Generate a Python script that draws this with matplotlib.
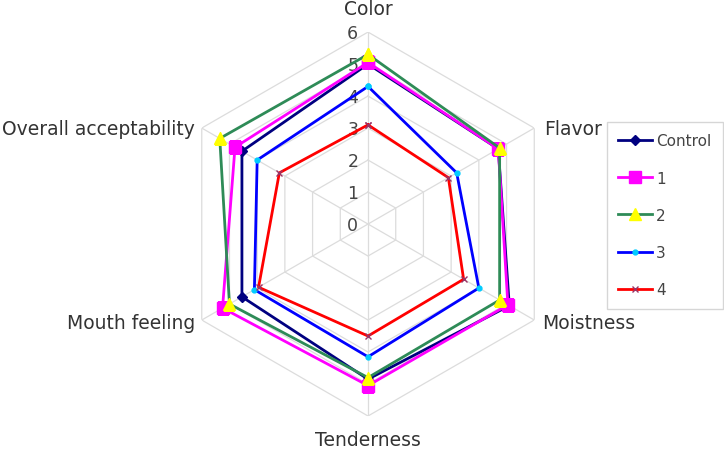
import matplotlib.pyplot as plt
import numpy as np

# Sensory attributes (clockwise from top)
attributes = ["Color", "Flavor", "Moistness", "Tenderness", "Mouth feeling", "Overall acceptability"]

# Scores
control = [5.0, 4.7, 5.1, 4.85, 4.55, 4.55]
sample1 = [5.05, 4.7, 5.05, 5.05, 5.25, 4.8]
sample2 = [5.3, 4.75, 4.75, 4.8, 5.0, 5.35]
sample3 = [4.3, 3.2, 4.0, 4.15, 4.1, 4.0]
sample4 = [3.1, 2.9, 3.45, 3.5, 3.95, 3.2]

series_names = ["Control", "1", "2", "3", "4"]
radial_ticks = [0, 1, 2, 3, 4, 5, 6]

n = len(attributes)
angles = np.linspace(0, 2 * np.pi, n, endpoint=False)
closed = np.append(angles, angles[0])

fig = plt.figure(figsize=(7.24, 4.56), dpi=100)
ax = fig.add_axes([0.2431, 0.0855, 0.5304, 0.842], projection="polar")
ax.set_theta_offset(np.pi / 2)
ax.set_theta_direction(-1)
ax.set_ylim(0, 6)
ax.grid(False)
ax.spines["polar"].set_visible(False)
ax.set_xticks([])
ax.set_yticks([])

# hexagonal grid
for r in radial_ticks[1:]:
    ax.plot(closed, [r] * (n + 1), color="#dcdcdc", lw=0.9, zorder=1)
for a in angles:
    ax.plot([a, a], [0, 6], color="#dcdcdc", lw=0.9, zorder=1)

# radial labels
for r in radial_ticks:
    ax.annotate(str(r), xy=(0, r), xytext=(-7, -1), textcoords="offset points",
                ha="right", va="center", fontsize=12.5, color="#444444")

styles = [
    dict(color="#000080", marker="D", ms=5, mfc="#000080", mec="#000080"),
    dict(color="#ff00ff", marker="s", ms=9, mfc="#ff00ff", mec="#ff00ff"),
    dict(color="#2e8b57", marker="^", ms=9, mfc="#ffff00", mec="#ffff00"),
    dict(color="#0000ff", marker="o", ms=3.5, mfc="#00ccff", mec="#00ccff"),
    dict(color="#ff0000", marker="x", ms=5, mfc="#993366", mec="#993366"),
]
data = [control, sample1, sample2, sample3, sample4]
for vals, name, st in zip(data, series_names, styles):
    v = np.append(vals, vals[0])
    ax.plot(closed, v, lw=2, label=name, zorder=3, **st)

# attribute labels
label_pos = [
    (0, 6, (0, 10), "center", "bottom"),
    (angles[1], 6, (7, 0), "left", "center"),
    (angles[2], 6, (6, -2), "left", "center"),
    (angles[3], 6, (0, -10), "center", "top"),
    (angles[4], 6, (-5, -2), "right", "center"),
    (angles[5], 6, (-5, 0), "right", "center"),
]
for text, (a, r, off, ha, va) in zip(attributes, label_pos):
    ax.annotate(text, xy=(a, r), xytext=off, textcoords="offset points",
                ha=ha, va=va, fontsize=13.5, color="#333333", annotation_clip=False)

leg = fig.legend(loc="upper left", bbox_to_anchor=(607 / 724, 1 - 123 / 456),
                 fontsize=11, frameon=True, fancybox=False, edgecolor="#cccccc",
                 handlelength=2.2, labelspacing=1.45, borderpad=0.75, handletextpad=0.25,
                 borderaxespad=0)
for t in leg.get_texts():
    t.set_color("#444444")

fig.savefig("out.png", dpi=100)
